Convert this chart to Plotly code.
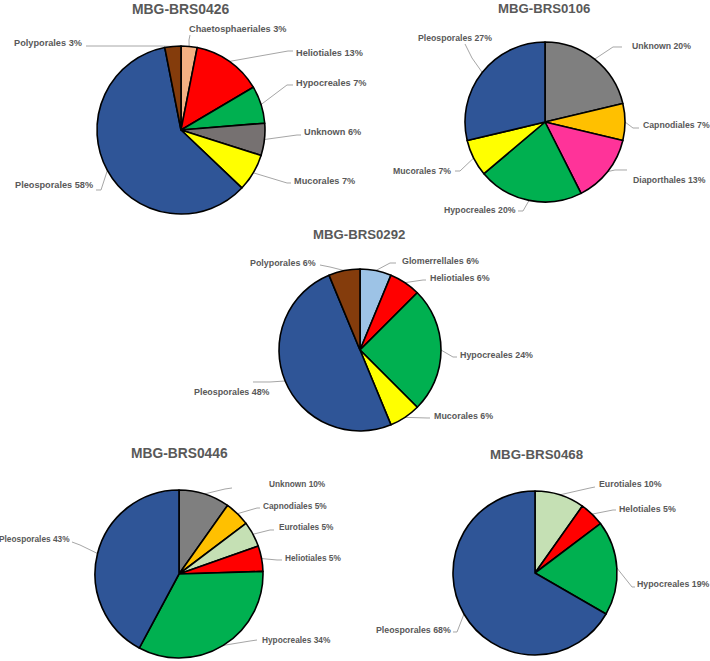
import math
import plotly.graph_objects as go

# ---------------- data ----------------
titles = ["MBG-BRS0426", "MBG-BRS0106", "MBG-BRS0292", "MBG-BRS0446", "MBG-BRS0468"]

labels_0426 = ["Chaetosphaeriales", "Heliotiales", "Hypocreales", "Unknown", "Mucorales", "Pleosporales", "Polyporales"]
values_0426 = [3, 13, 7, 6, 7, 58, 3]

labels_0106 = ["Unknown", "Capnodiales", "Diaporthales", "Hypocreales", "Mucorales", "Pleosporales"]
values_0106 = [20, 7, 13, 20, 7, 27]

labels_0292 = ["Glomerrellales", "Heliotiales", "Hypocreales", "Mucorales", "Pleosporales", "Polyporales"]
values_0292 = [6, 6, 24, 6, 48, 6]

labels_0446 = ["Unknown", "Capnodiales", "Eurotiales", "Heliotiales", "Hypocreales", "Pleosporales"]
values_0446 = [10, 5, 5, 5, 34, 43]

labels_0468 = ["Eurotiales", "Helotiales", "Hypocreales", "Pleosporales"]
values_0468 = [10, 5, 19, 68]

# ---------------- styles ----------------
COLORS = {
    "Pleosporales": "#2F5597",
    "Heliotiales": "#FF0000",
    "Helotiales": "#FF0000",
    "Hypocreales": "#00B050",
    "Unknown": "#7F7F7F",
    "Mucorales": "#FFFF00",
    "Chaetosphaeriales": "#F4B183",
    "Polyporales": "#843C0C",
    "Capnodiales": "#FFC000",
    "Diaporthales": "#FF3399",
    "Glomerrellales": "#9DC3E6",
    "Eurotiales": "#C5E0B4",
}
UNKNOWN_0426 = "#767171"

W, H = 710, 661
TEXT_COLOR = "#595959"
LEADER_COLOR = "#A6A6A6"
FONT = "Liberation Sans, Arial, sans-serif"

# pie geometry in pixels: center x, center y, radius, title x, title y, title size, label size
GEOM = [
    (181, 130, 84, 181, 9, 13.9, 9.2),
    (545, 122, 80, 544, 8, 13.2, 8.7),
    (360, 350, 81, 359, 234, 13.2, 8.9),
    (179, 574, 84, 179, 453, 13.8, 8.3),
    (535, 573, 82, 536, 454, 13.3, 8.8),
]

# label layout per slice (pixels): text x, text y, xanchor, elbow x, elbow y, end x, end y
LABEL_LAYOUT = [
    [
        (187, 29, "left", 189, 40, 190, 35),
        (294, 53, "left", 288, 51, 293, 51),
        (294, 83, "left", 287, 85, 293, 85),
        (302, 132, "left", 297, 135, 301, 135),
        (292, 181, "left", 287, 183, 291, 183),
        (95, 185, "right", 101, 190, 96, 190),
        (84, 43, "right", 160, 46, 86, 46),
    ],
    [
        (630, 46, "left", 613, 47, 622, 47),
        (641, 125, "left", 633, 128, 639, 128),
        (631, 180, "left", 615, 170, 627, 170),
        (518, 210, "right", 523, 211, 518, 211),
        (453, 171, "right", 460, 171, 455, 171),
        (455, 38, "center", 472, 58, 465, 44),
    ],
    [
        (400, 261, "left", 390, 263, 396, 263),
        (428, 278, "left", 423, 280, 426, 280),
        (458, 355, "left", 453, 357, 457, 357),
        (432, 416, "left", 427, 418, 430, 418),
        (272, 392, "right", 270, 382, 253, 382),
        (318, 263, "right", 330, 267, 320, 265),
    ],
    [
        (267, 484, "left", 225, 489, 232, 488),
        (261, 506, "left", 257, 508, 260, 508),
        (277, 527, "left", 270, 530, 274, 530),
        (283, 558, "left", 277, 560, 282, 560),
        (260, 640, "left", 250, 641, 257, 640),
        (72, 539, "right", 80, 545, 72, 542),
    ],
    [
        (597, 484, "left", 590, 488, 595, 487),
        (617, 509, "left", 613, 510, 616, 510),
        (635, 584, "left", 632, 587, 635, 587),
        (453, 630, "right", 457, 632, 453, 632),
    ],
]

DATA = [
    (labels_0426, values_0426),
    (labels_0106, values_0106),
    (labels_0292, values_0292),
    (labels_0446, values_0446),
    (labels_0468, values_0468),
]


def px(x):
    return x / W


def py(y):
    return 1 - y / H


fig = go.Figure()
shapes = []
annotations = []

for i, ((labs, vals), (cx, cy, r, tx, ty, tsize, lsize)) in enumerate(zip(DATA, GEOM)):
    cols = [COLORS[l] for l in labs]
    if i == 0:
        cols = [UNKNOWN_0426 if l == "Unknown" else COLORS[l] for l in labs]
    fig.add_trace(go.Pie(
        labels=labs,
        values=vals,
        sort=False,
        direction="clockwise",
        rotation=0,
        textinfo="none",
        marker=dict(colors=cols, line=dict(color="black", width=1.6)),
        domain=dict(x=[px(cx - r), px(cx + r)], y=[py(cy + r), py(cy - r)]),
        showlegend=False,
        hovertemplate="%{label}: %{value}%<extra></extra>",
    ))
    annotations.append(dict(
        x=px(tx), y=py(ty), xref="paper", yref="paper", text="<b>%s</b>" % titles[i],
        showarrow=False, xanchor="center", yanchor="middle",
        font=dict(family=FONT, size=tsize, color=TEXT_COLOR),
    ))
    total = float(sum(vals))
    cum = 0.0
    for j, (lab, v) in enumerate(zip(labs, vals)):
        mid = (cum + v / 2.0) / total * 2 * math.pi
        cum += v
        sx = cx + r * math.sin(mid)
        sy = cy - r * math.cos(mid)
        ltx, lty, anc, ex, ey, enx, eny = LABEL_LAYOUT[i][j]
        shapes.append(dict(
            type="path", xref="paper", yref="paper",
            path="M %f,%f L %f,%f L %f,%f" % (px(sx), py(sy), px(ex), py(ey), px(enx), py(eny)),
            line=dict(color=LEADER_COLOR, width=1),
            layer="below",
        ))
        annotations.append(dict(
            x=px(ltx), y=py(lty), xref="paper", yref="paper",
            text="<b>%s %d%%</b>" % (lab, v),
            showarrow=False, xanchor=anc, yanchor="middle",
            font=dict(family=FONT, size=lsize, color=TEXT_COLOR),
        ))

fig.update_layout(
    width=W, height=H, autosize=False,
    margin=dict(l=0, r=0, t=0, b=0),
    paper_bgcolor="white", plot_bgcolor="white",
    shapes=shapes, annotations=annotations,
)

fig.write_html(
    "out.html",
    config={"displayModeBar": False},
    post_script="document.body.style.margin='0px';document.body.style.overflow='hidden';",
)
